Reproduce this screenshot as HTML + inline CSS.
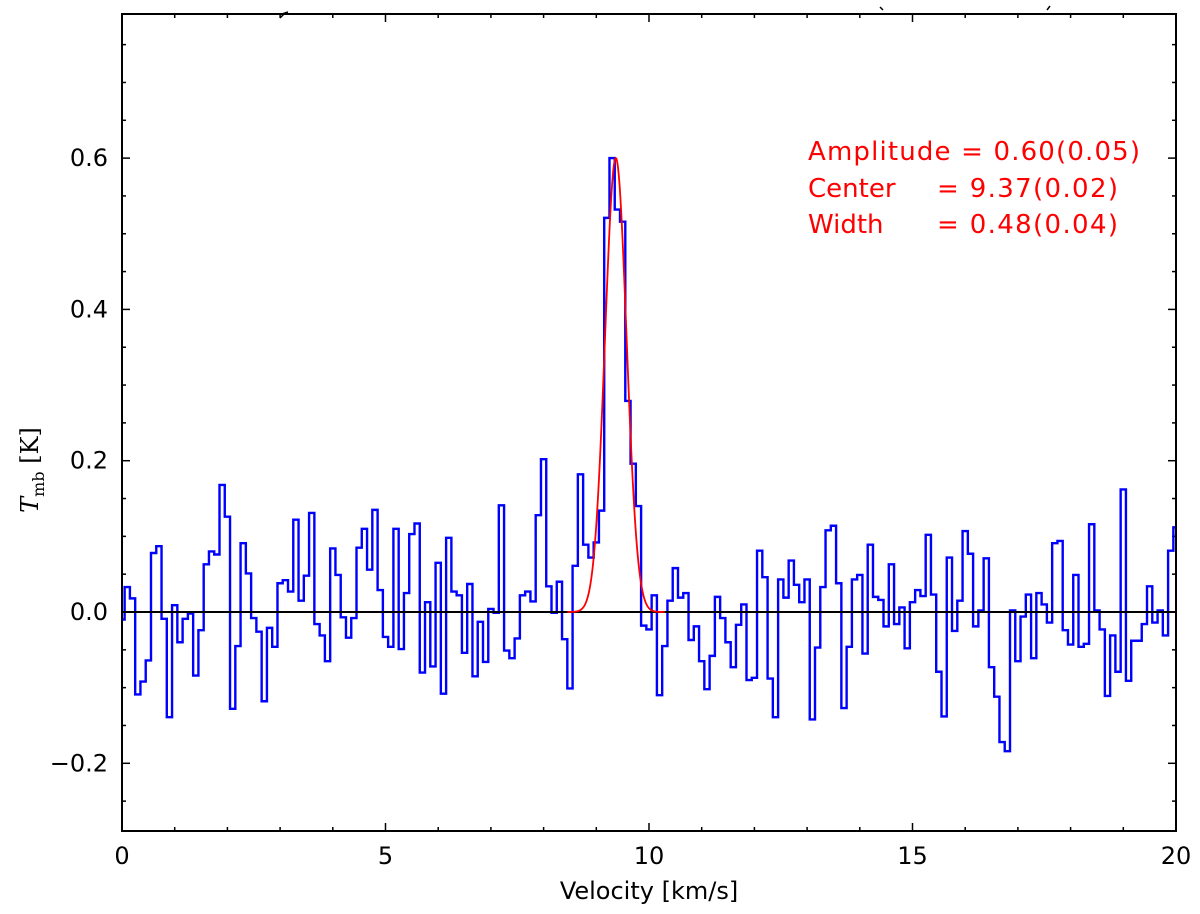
<!DOCTYPE html>
<html><head><meta charset="utf-8"><title>Spectrum</title>
<style>
html,body{margin:0;padding:0;background:#fff;}
svg{display:block;}
text{font-family:"DejaVu Sans","Liberation Sans",sans-serif;}
</style></head>
<body>
<svg id="chart" width="1200" height="914" viewBox="0 0 1200 914" xmlns="http://www.w3.org/2000/svg">
  <rect x="0" y="0" width="1200" height="914" fill="#fff"/>
  <g id="grid-ticks"></g>
  <g id="series"></g>
  <rect x="122" y="14" width="1054" height="817" fill="none" stroke="#000" stroke-width="2"/>
  <path d="M280 18 L285 13 M282 14 L288 12" stroke="#000" stroke-width="1.5" fill="none"/>
  <path d="M880 7 L883 10" stroke="#000" stroke-width="1.5" fill="none"/>
  <path d="M1047 10 L1050 6" stroke="#000" stroke-width="1.5" fill="none"/>
  <g fill="#ff0000" font-size="26" xml:space="preserve">
    <text x="808" y="160" textLength="332">Amplitude = 0.60(0.05)</text>
    <text x="808" y="197">Center</text>
    <text x="937" y="197" textLength="181">= 9.37(0.02)</text>
    <text x="808" y="233">Width</text>
    <text x="937" y="233" textLength="181">= 0.48(0.04)</text>
  </g>
  <text x="649" y="899" font-size="24" text-anchor="middle">Velocity [km/s]</text>
  <g transform="translate(38,470) rotate(-90)">
    <text x="0" y="0" text-anchor="middle" font-size="24"><tspan font-family="'DejaVu Serif','Liberation Serif',serif" font-style="italic">T</tspan><tspan font-family="'DejaVu Serif','Liberation Serif',serif" font-size="16" dy="6">mb</tspan><tspan dy="-6" font-family="'DejaVu Serif','Liberation Serif',serif"> [K]</tspan></text>
  </g>
</svg>
<script>
const xTicks = [0, 5, 10, 15, 20];
const yTicks = [-0.2, 0.0, 0.2, 0.4, 0.6];
const yTickLabels = ["\u22120.2", "0.0", "0.2", "0.4", "0.6"];
const chanStart = 0.0;
const chanStep = 0.1;
const tmb = [
-0.01,
0.033,0.018,-0.109,-0.092,-0.064,0.078,0.087,-0.009,-0.139,0.009,
-0.040,-0.009,-0.002,-0.084,-0.024,0.063,0.080,0.076,0.168,0.126,
-0.128,-0.045,0.091,0.051,-0.008,-0.026,-0.118,-0.021,-0.046,0.038,
0.042,0.027,0.122,0.015,0.048,0.131,-0.016,-0.031,-0.065,0.084,
0.049,-0.007,-0.034,-0.008,0.085,0.110,0.056,0.135,0.029,
-0.033,-0.046,0.110,-0.049,0.025,0.103,0.117,-0.080,0.013,-0.072,
0.065,-0.108,0.098,0.027,0.022,-0.054,0.037,-0.085,-0.013,-0.066,
0.004,-0.001,0.141,-0.051,-0.061,-0.035,0.022,0.027,0.014,0.128,
0.202,0.034,-0.001,0.040,-0.036,-0.101,0.061,0.182,0.089,0.072,
0.092,0.134,
0.521,0.600,0.532,0.516,0.279,0.196,0.140,
-0.018,-0.023,0.022,-0.110,-0.045,0.015,0.058,0.019,0.025,-0.037,
-0.019,-0.065,-0.102,-0.058,0.020,-0.008,-0.040,-0.073,-0.017,0.010,
-0.090,-0.087,0.081,0.046,-0.088,-0.139,0.043,0.019,0.068,0.036,
0.013,0.043,-0.142,-0.047,0.033,0.108,0.114,0.038,-0.127,-0.046,
0.043,0.049,-0.055,0.089,0.020,0.016,-0.019,0.063,-0.016,0.006,
-0.048,
0.013,0.029,0.021,0.102,0.023,-0.079,-0.138,0.072,-0.025,0.015,
0.107,0.077,-0.019,0.002,0.071,-0.073,-0.112,-0.172,-0.184,0.002,
-0.065,-0.006,0.023,-0.061,0.025,0.010,-0.014,0.091,0.094,-0.024,
-0.043,0.049,-0.046,-0.042,0.116,0.002,-0.023,-0.111,-0.031,-0.079,
0.162,-0.091,-0.038,-0.038,-0.016,0.034,-0.014,0.002,-0.031,0.081,
0.112
];
const fitAmp = [0.60];
const fitCenter = [9.37];
const fitFwhm = [0.48];
const fitRange = [8.45, 10.3];

const X0 = 122, X1 = 1176, Y0 = 14, Y1 = 831;
const xMin = 0, xMax = 20, yMin = -0.2895, yMax = 0.7905;
function sx(v){ return X0 + (v - xMin) / (xMax - xMin) * (X1 - X0); }
function sy(v){ return Y1 - (v - yMin) / (yMax - yMin) * (Y1 - Y0); }
function clampX(p){ return Math.max(X0, Math.min(X1, p)); }
const NS = "http://www.w3.org/2000/svg";
const svg = document.getElementById('chart');
const tickG = document.getElementById('grid-ticks');
const seriesG = document.getElementById('series');

for (let v = xMin; v <= xMax + 1e-9; v += 1) {
  const major = Math.abs(v % 5) < 1e-9;
  const len = major ? 8 : 4;
  const x = sx(v);
  const t1 = document.createElementNS(NS, 'line');
  
  
  t1.setAttribute('x1', x); t1.setAttribute('x2', x);
  t1.setAttribute('y1', Y1); t1.setAttribute('y2', Y1 - len);
  t1.setAttribute('stroke', '#000'); t1.setAttribute('stroke-width', '1.5');
  tickG.appendChild(t1);
  const t2 = document.createElementNS(NS, 'line');
  
  
  t2.setAttribute('x1', x); t2.setAttribute('x2', x);
  t2.setAttribute('y1', Y0); t2.setAttribute('y2', Y0 + len);
  t2.setAttribute('stroke', '#000'); t2.setAttribute('stroke-width', '1.5');
  tickG.appendChild(t2);
}
xTicks.forEach(v => {
  const t = document.createElementNS(NS, 'text');
  
  
  t.setAttribute('x', sx(v)); t.setAttribute('y', 864);
  t.setAttribute('text-anchor', 'middle'); t.setAttribute('font-size', '24');
  t.textContent = String(v);
  svg.appendChild(t);
});
for (let i = -6; i <= 15; i++) {
  const v = i * 0.05;
  if (v < yMin || v > yMax) continue;
  const major = (i % 4 === 0);
  const len = major ? 8 : 4;
  const y = sy(v);
  const t1 = document.createElementNS(NS, 'line');
  
  
  t1.setAttribute('x1', X0); t1.setAttribute('x2', X0 + len);
  t1.setAttribute('y1', y); t1.setAttribute('y2', y);
  t1.setAttribute('stroke', '#000'); t1.setAttribute('stroke-width', '1.5');
  tickG.appendChild(t1);
  const t2 = document.createElementNS(NS, 'line');
  
  
  t2.setAttribute('x1', X1); t2.setAttribute('x2', X1 - len);
  t2.setAttribute('y1', y); t2.setAttribute('y2', y);
  t2.setAttribute('stroke', '#000'); t2.setAttribute('stroke-width', '1.5');
  tickG.appendChild(t2);
}
yTicks.forEach((v, i) => {
  const t = document.createElementNS(NS, 'text');
  
  
  t.setAttribute('x', 108); t.setAttribute('y', sy(v) + 8);
  t.setAttribute('text-anchor', 'end'); t.setAttribute('font-size', '24');
  t.textContent = yTickLabels[i];
  svg.appendChild(t);
});

let d = '';
tmb.forEach((val, k) => {
  const c = chanStart + chanStep * k;
  const xa = clampX(sx(c - chanStep / 2)), xb = clampX(sx(c + chanStep / 2));
  const y = sy(val);
  d += (k === 0 ? 'M' : 'L') + xa.toFixed(2) + ' ' + y.toFixed(2) + ' L' + xb.toFixed(2) + ' ' + y.toFixed(2) + ' ';
});
const spec = document.createElementNS(NS, 'path');


spec.setAttribute('d', d);
spec.setAttribute('fill', 'none'); spec.setAttribute('stroke', '#0000ff');
spec.setAttribute('stroke-width', '2.4'); spec.setAttribute('stroke-linejoin', 'miter');
seriesG.appendChild(spec);

const base = document.createElementNS(NS, 'line');


base.setAttribute('x1', X0); base.setAttribute('x2', X1);
base.setAttribute('y1', sy(0)); base.setAttribute('y2', sy(0));
base.setAttribute('stroke', '#000'); base.setAttribute('stroke-width', '2');
seriesG.appendChild(base);

const sig = fitFwhm[0] / 2.3548;
let g = '';
for (let i = 0; i <= 300; i++) {
  const v = fitRange[0] + (fitRange[1] - fitRange[0]) * i / 300;
  const val = fitAmp[0] * Math.exp(-0.5 * Math.pow((v - fitCenter[0]) / sig, 2));
  g += (i === 0 ? 'M' : 'L') + sx(v).toFixed(2) + ' ' + sy(val).toFixed(2) + ' ';
}
const fit = document.createElementNS(NS, 'path');


fit.setAttribute('d', g);
fit.setAttribute('fill', 'none'); fit.setAttribute('stroke', '#ff0000'); fit.setAttribute('stroke-width', '1.8');
seriesG.appendChild(fit);
</script>
</body></html>
